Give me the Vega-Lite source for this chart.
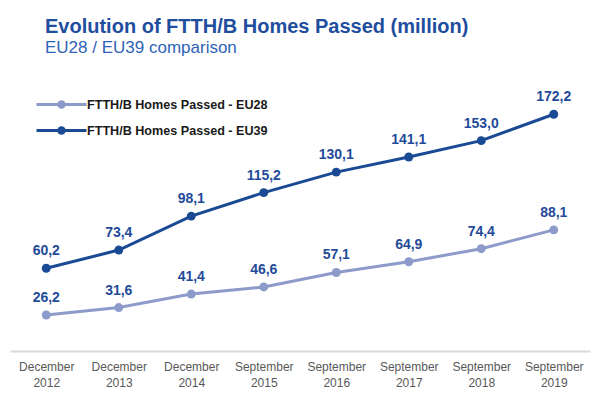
{
  "$schema": "https://vega.github.io/schema/vega-lite/v6.json",
  "width": 580,
  "height": 275,
  "autosize": {"type": "none"},
  "padding": {"left": 10, "top": 76, "right": 10, "bottom": 47},
  "background": "white",
  "config": {
    "view": {"stroke": null},
    "font": "Liberation Sans",
    "locale": {"number": {"decimal": ",", "thousands": ".", "grouping": [3], "currency": ["", " €"]}}
  },
  "title": {
    "text": "Evolution of FTTH/B Homes Passed (million)",
    "subtitle": "EU28 / EU39 comparison",
    "anchor": "start",
    "frame": "group",
    "dx": 35,
    "offset": 20,
    "font": "Liberation Sans",
    "fontSize": 20,
    "fontWeight": "bold",
    "color": "#1f4e9e",
    "subtitleFont": "Liberation Sans",
    "subtitleFontSize": 17,
    "subtitleColor": "#2f63b6",
    "subtitlePadding": 3
  },
  "data": {
    "values": [
      {"period": "December 2012", "series": "FTTH/B Homes Passed - EU28", "value": 26.2},
      {"period": "December 2013", "series": "FTTH/B Homes Passed - EU28", "value": 31.6},
      {"period": "December 2014", "series": "FTTH/B Homes Passed - EU28", "value": 41.4},
      {"period": "September 2015", "series": "FTTH/B Homes Passed - EU28", "value": 46.6},
      {"period": "September 2016", "series": "FTTH/B Homes Passed - EU28", "value": 57.1},
      {"period": "September 2017", "series": "FTTH/B Homes Passed - EU28", "value": 64.9},
      {"period": "September 2018", "series": "FTTH/B Homes Passed - EU28", "value": 74.4},
      {"period": "September 2019", "series": "FTTH/B Homes Passed - EU28", "value": 88.1},
      {"period": "December 2012", "series": "FTTH/B Homes Passed - EU39", "value": 60.2},
      {"period": "December 2013", "series": "FTTH/B Homes Passed - EU39", "value": 73.4},
      {"period": "December 2014", "series": "FTTH/B Homes Passed - EU39", "value": 98.1},
      {"period": "September 2015", "series": "FTTH/B Homes Passed - EU39", "value": 115.2},
      {"period": "September 2016", "series": "FTTH/B Homes Passed - EU39", "value": 130.1},
      {"period": "September 2017", "series": "FTTH/B Homes Passed - EU39", "value": 141.1},
      {"period": "September 2018", "series": "FTTH/B Homes Passed - EU39", "value": 153.0},
      {"period": "September 2019", "series": "FTTH/B Homes Passed - EU39", "value": 172.2}
    ]
  },
  "encoding": {
    "x": {
      "field": "period",
      "type": "ordinal",
      "sort": null,
      "axis": {
        "title": null,
        "labelAngle": 0,
        "labelExpr": "split(datum.label, ' ')",
        "labelFont": "Liberation Sans",
        "labelFontSize": 12,
        "labelColor": "#595959",
        "labelPadding": 10,
        "labelLineHeight": 16,
        "ticks": false,
        "domainColor": "#d9d9d9",
        "domainWidth": 2,
        "grid": false
      }
    },
    "y": {
      "field": "value",
      "type": "quantitative",
      "scale": {"domain": [0, 200], "nice": false},
      "axis": null
    }
  },
  "layer": [
    {
      "mark": {"type": "line", "strokeWidth": 3, "point": {"filled": true, "size": 80}},
      "encoding": {
        "color": {
          "field": "series",
          "type": "nominal",
          "scale": {
            "domain": ["FTTH/B Homes Passed - EU28", "FTTH/B Homes Passed - EU39"],
            "range": ["#8c9bc9", "#1a4a94"]
          },
          "legend": {
            "title": null,
            "orient": "none",
            "legendX": 45,
            "legendY": 22,
            "symbolType": "M-5,0L5,0M0.55,0A0.55,0.55 0 1,1 -0.55,0A0.55,0.55 0 1,1 0.55,0",
            "symbolSize": 100,
            "symbolStrokeWidth": 3,
            "labelFont": "Liberation Sans",
            "labelFontSize": 12.6,
            "labelFontWeight": "bold",
            "labelColor": "#1a1a1a",
            "labelOffset": 19,
            "rowPadding": 7,
            "labelLimit": 400
          }
        }
      }
    },
    {
      "mark": {"type": "text", "dy": -17, "fontSize": 14, "fontWeight": "bold", "font": "Liberation Sans", "color": "#1f4b99"},
      "encoding": {
        "text": {"field": "value", "type": "quantitative", "format": ".1f"}
      }
    }
  ]
}
